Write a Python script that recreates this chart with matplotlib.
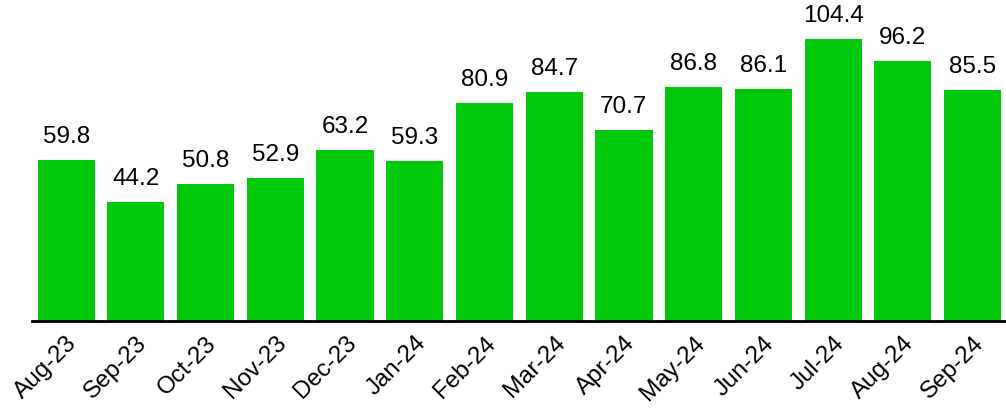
import matplotlib.pyplot as plt

# data
months = ["Aug-23", "Sep-23", "Oct-23", "Nov-23", "Dec-23", "Jan-24", "Feb-24",
          "Mar-24", "Apr-24", "May-24", "Jun-24", "Jul-24", "Aug-24", "Sep-24"]
values = [59.8, 44.2, 50.8, 52.9, 63.2, 59.3, 80.9, 84.7, 70.7, 86.8, 86.1, 104.4, 96.2, 85.5]

plt.rcParams['font.family'] = ['Liberation Sans', 'DejaVu Sans']

fig = plt.figure(figsize=(10.06, 4.08), dpi=100)
ax = fig.add_axes([32 / 1006, 1 - 321 / 408, 974 / 1006, 321 / 408])

x = range(len(months))
bars = ax.bar(x, values, width=0.82, color="#00c80a")

# value labels above bars
for xi, v in zip(x, values):
    ax.text(xi, v + 6.3, f"{v:.1f}", ha="center", va="baseline", fontsize=17.5)

ax.set_xlim(-0.49, 13.48)
ax.set_ylim(0, 118.9)

# only the baseline is kept
for side in ["top", "right", "left"]:
    ax.spines[side].set_visible(False)
ax.spines["bottom"].set_linewidth(2)
ax.set_yticks([])
ax.set_xticks(list(x))
ax.set_xticklabels(months, rotation=45, ha="right", rotation_mode="anchor", fontsize=17.5)
ax.tick_params(axis="x", length=0, pad=8)

fig.savefig("out.png", dpi=100)
